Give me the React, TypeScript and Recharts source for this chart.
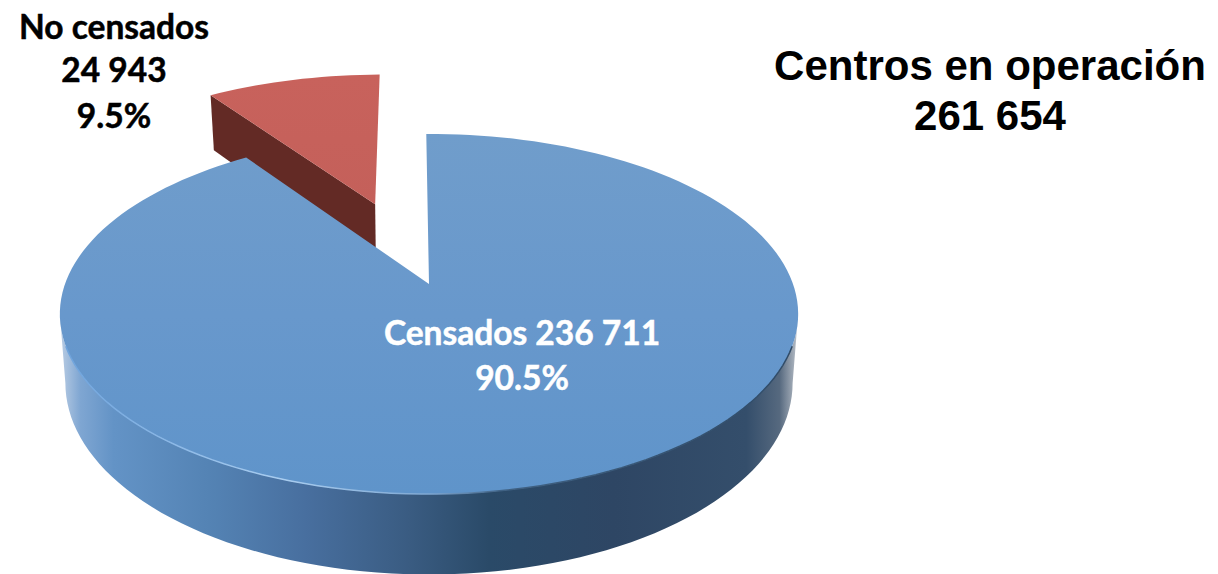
import React from "react";
import { PieChart, Pie, Cell } from "recharts";

const categories = ["No censados", "Censados"];
const values = [24943, 236711];
const shares = ["9.5%", "90.5%"];
const displayValues = ["24 943", "236 711"];
const titleLines = ["Centros en operación", "261 654"];
const fills = ["url(#redTop)", "url(#blueTop)"];

const W = 1218;
const H = 574;
const APEX_X = 429;
const APEX_Y = 284;
const B = 364;
const A_RATIO = 0.481;
const K = -1 / 6;
const DEPTH = 67;
const LOWER_SCALE = 0.985;
const EXPLODE = 0.518;
const RAD = Math.PI / 180;

const total = values.reduce((a, b) => a + b, 0);
const startAngle = 90.5 + (values[0] / total) * 360;
const tableData = categories.map((name, i) => ({ name, value: values[i], idx: i }));

type Off = { u: number; v: number };

function project(cx: number, cy: number, r: number, u: number, v: number, lower = false) {
  const den = 1 + K * v;
  const s = lower ? LOWER_SCALE : 1;
  return {
    x: cx + (r * u * s) / den,
    y: cy + (r * A_RATIO * v) / den + (lower ? DEPTH / den : 0),
  };
}

function arcPoints(cx: number, cy: number, r: number, a0: number, a1: number, off: Off, lower = false) {
  const n = Math.max(2, Math.ceil(Math.abs(a1 - a0) / 2));
  const pts: { x: number; y: number }[] = [];
  for (let i = 0; i <= n; i++) {
    const a = (a0 + ((a1 - a0) * i) / n) * RAD;
    pts.push(project(cx, cy, r, Math.cos(a) + off.u, -Math.sin(a) + off.v, lower));
  }
  return pts;
}

const toD = (pts: { x: number; y: number }[], close = true) =>
  pts.map((p, i) => `${i ? "L" : "M"}${p.x.toFixed(2)} ${p.y.toFixed(2)}`).join(" ") + (close ? " Z" : "");

function Slice3D(props: any) {
  const { cx, cy, outerRadius, startAngle: sa, endAngle: ea, fill } = props;
  const exploded = Math.abs(ea - sa) < 180;
  if (exploded) {
    const mid = ((sa + ea) / 2) * RAD;
    const off = { u: Math.cos(mid) * EXPLODE, v: -Math.sin(mid) * EXPLODE };
    const shift = -1;
    const apexT = project(cx + shift, cy, outerRadius, off.u, off.v);
    const apexL = project(cx + shift, cy, outerRadius, off.u, off.v, true);
    const cornerT = arcPoints(cx + shift, cy, outerRadius, sa, sa, off)[0];
    const cornerL = arcPoints(cx + shift, cy, outerRadius, sa, sa, off, true)[0];
    const top = [apexT, ...arcPoints(cx + shift, cy, outerRadius, sa, ea, off)];
    return (
      <g>
        <path d={toD([cornerT, apexT, apexL, cornerL])} fill="#632a25" />
        <path d={toD(top)} fill={fill} />
      </g>
    );
  }
  const none = { u: 0, v: 0 };
  const ext = Math.asin(-K) / RAD;
  const upper = arcPoints(cx, cy, outerRadius, -ext, -180 + ext, none);
  const lower = arcPoints(cx, cy, outerRadius, -ext, -180 + ext, none, true);
  const rim = arcPoints(cx, cy, outerRadius, -ext - 10, -180 + ext + 10, none);
  const top = [{ x: cx, y: cy }, ...arcPoints(cx, cy, outerRadius, sa, ea, none)];
  return (
    <g>
      <path d={toD([...upper, ...lower.reverse()])} fill="url(#blueSide)" />
      <path d={toD(top)} fill={fill} />
      <path d={toD(rim, false)} fill="none" stroke="url(#blueRim)" strokeWidth={1.5} />
    </g>
  );
}

function SliceLabel(props: any) {
  const i = props.payload?.idx ?? props.index;
  const font = {
    fontFamily: "Lato, Carlito, sans-serif",
    fontWeight: 700,
    textAnchor: "middle" as const,
    strokeWidth: 0.5,
  };
  if (i === 0) {
    return (
      <text {...font} fontSize={33.5} fill="#000000" stroke="#000000">
        <tspan x={114} y={39}>{categories[0]}</tspan>
        <tspan x={114} y={82}>{displayValues[0]}</tspan>
        <tspan x={114} y={128}>{shares[0]}</tspan>
      </text>
    );
  }
  return (
    <text {...font} fontSize={33.5} fill="#ffffff" stroke="#ffffff">
      <tspan x={522} y={345}>{`${categories[1]} ${displayValues[1]}`}</tspan>
      <tspan x={522} y={390}>{shares[1]}</tspan>
    </text>
  );
}

export default function App() {
  return (
    <div style={{ position: "absolute", left: 0, top: 0, width: W, height: H, overflow: "hidden", background: "#fff" }}>
      <PieChart width={W} height={H} margin={{ top: 0, right: 0, bottom: 0, left: 0 }}>
        <defs>
          <linearGradient id="blueTop" gradientUnits="userSpaceOnUse" x1="0" y1="135" x2="0" y2="495">
            <stop offset="0" stopColor="#709dcb" />
            <stop offset="0.5" stopColor="#6898cc" />
            <stop offset="1" stopColor="#5f94ca" />
          </linearGradient>
          <linearGradient id="redTop" gradientUnits="userSpaceOnUse" x1="0" y1="75" x2="0" y2="205">
            <stop offset="0" stopColor="#c8625c" />
            <stop offset="1" stopColor="#c4605a" />
          </linearGradient>
          <linearGradient id="blueSide" gradientUnits="userSpaceOnUse" x1="62" y1="0" x2="798" y2="0">
            <stop offset="0" stopColor="#b4c9e2" />
            <stop offset="0.025" stopColor="#7fa6d2" />
            <stop offset="0.07" stopColor="#6393c6" />
            <stop offset="0.2" stopColor="#5483b4" />
            <stop offset="0.33" stopColor="#486f9f" />
            <stop offset="0.47" stopColor="#3a5c82" />
            <stop offset="0.58" stopColor="#2a4a68" />
            <stop offset="0.75" stopColor="#2e4664" />
            <stop offset="0.93" stopColor="#344e6b" />
            <stop offset="0.975" stopColor="#56697f" />
            <stop offset="0.995" stopColor="#a6afba" />
            <stop offset="1" stopColor="#c5cbd2" />
          </linearGradient>
          <linearGradient id="blueRim" gradientUnits="userSpaceOnUse" x1="62" y1="0" x2="798" y2="0">
            <stop offset="0" stopColor="#6ea3dc" />
            <stop offset="0.3" stopColor="#a9cdf0" />
            <stop offset="0.5" stopColor="#7ea7d2" />
            <stop offset="0.6" stopColor="#3f6183" />
            <stop offset="1" stopColor="#2f4a66" />
          </linearGradient>
        </defs>
        <Pie
          data={tableData}
          dataKey="value"
          nameKey="name"
          cx={APEX_X}
          cy={APEX_Y}
          innerRadius={0}
          outerRadius={B}
          startAngle={startAngle}
          endAngle={startAngle - 360}
          paddingAngle={0}
          stroke="none"
          isAnimationActive={false}
          shape={Slice3D}
          inactiveShape={Slice3D}
          label={SliceLabel}
          labelLine={false}
        >
          {tableData.map((d, i) => (
            <Cell key={d.name} fill={fills[i]} />
          ))}
        </Pie>
      </PieChart>
      <div
        style={{
          position: "absolute",
          left: 762,
          top: 41,
          width: 456,
          textAlign: "center",
          fontFamily: "'Liberation Sans', Arial, sans-serif",
          fontWeight: 700,
          fontSize: 42,
          lineHeight: "50px",
          color: "#000",
        }}
      >
        <div>{titleLines[0]}</div>
        <div>{titleLines[1]}</div>
      </div>
    </div>
  );
}
